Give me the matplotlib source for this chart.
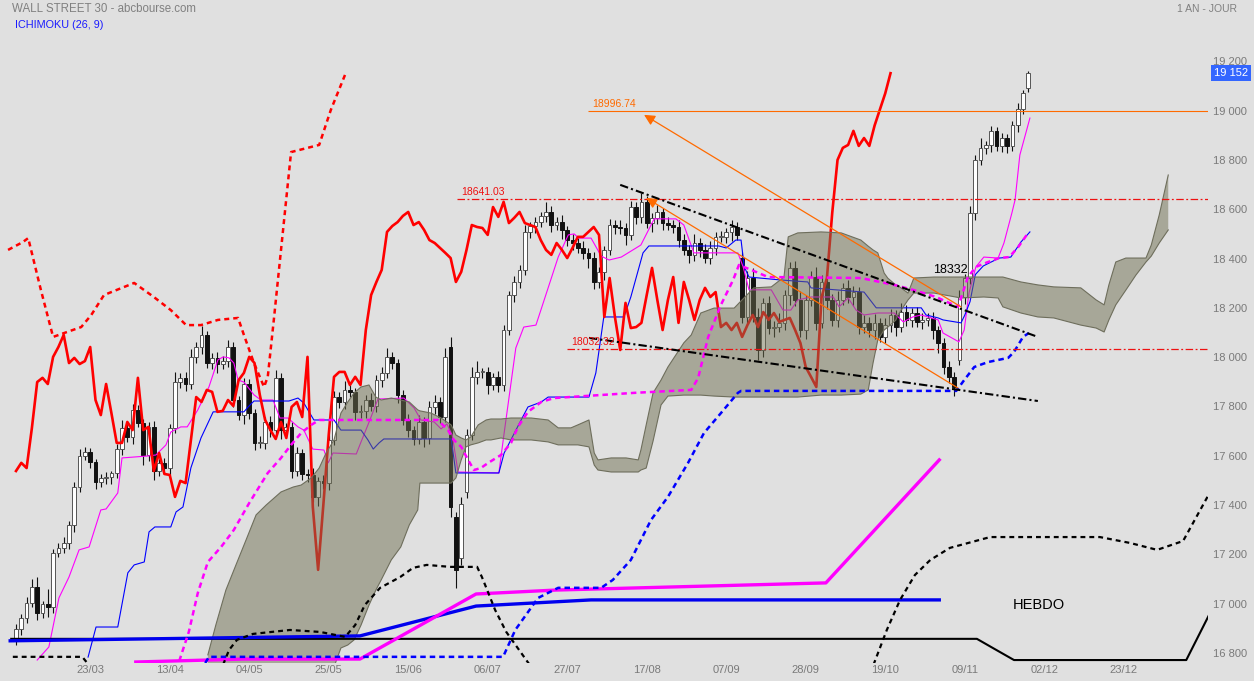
import numpy as np
import matplotlib
matplotlib.use("Agg")
import matplotlib.pyplot as plt
from matplotlib.transforms import blended_transform_factory

# ---------------- data ----------------
closes = [16897, 16942, 17003, 17068, 16962, 16999, 16987, 17206, 17226, 17246,
          17319, 17474, 17599, 17616, 17575, 17494, 17510, 17514, 17530, 17628,
          17713, 17676, 17786, 17733, 17603, 17717, 17538, 17571, 17550, 17713,
          17899, 17916, 17891, 18001, 18041, 18090, 17976, 17997, 17972, 17984,
          18041, 17826, 17765, 17891, 17773, 17652, 17652, 17737, 17704, 17916,
          17704, 17717, 17538, 17611, 17526, 17522, 17433, 17498, 17489, 17664,
          17838, 17818, 17867, 17859, 17778, 17782, 17826, 17802, 17907, 17936,
          18001, 17976, 17847, 17745, 17704, 17668, 17737, 17672, 17798, 17818,
          17757, 18001, 17392, 17137, 17404, 17684, 17920, 17940, 17940, 17887,
          17920, 17887, 18110, 18252, 18305, 18354, 18508, 18532, 18548, 18573,
          18589, 18536, 18548, 18516, 18475, 18463, 18443, 18423, 18402, 18305,
          18346, 18435, 18536, 18528, 18524, 18496, 18609, 18569, 18630, 18544,
          18565, 18589, 18544, 18536, 18528, 18475, 18435, 18415, 18463, 18435,
          18402, 18443, 18488, 18488, 18508, 18528, 18496, 18163, 18321, 18163,
          18029, 18220, 18118, 18122, 18139, 18252, 18362, 18232, 18110, 18232,
          18325, 18139, 18305, 18232, 18151, 18232, 18281, 18244, 18264, 18122,
          18139, 18110, 18139, 18082, 18130, 18171, 18122, 18183, 18151, 18179,
          18143, 18151, 18159, 18110, 18057, 17960, 17920, 17879, 18244, 18321,
          18585, 18800, 18849, 18861, 18918, 18857, 18889, 18857, 18940, 19005, 19070, 19152]

opens = [16861, 16897, 16942, 17003, 17068, 16962, 16999, 16987, 17206, 17226,
         17246, 17319, 17474, 17599, 17616, 17575, 17494, 17510, 17514, 17530,
         17628, 17713, 17676, 17786, 17733, 17603, 17717, 17538, 17571, 17550,
         17713, 17899, 17916, 17891, 18001, 18041, 18090, 17976, 17997, 17972,
         17984, 18041, 17826, 17765, 17891, 17773, 17652, 17652, 17737, 17704,
         17916, 17704, 17717, 17538, 17611, 17526, 17522, 17433, 17498, 17489,
         17664, 17838, 17818, 17867, 17859, 17778, 17782, 17826, 17802, 17907,
         17936, 18001, 17976, 17847, 17745, 17704, 17668, 17737, 17672, 17798,
         17818, 17757, 18040, 17350, 17185, 17453, 17684, 17920, 17940, 17940,
         17887, 17920, 17887, 18110, 18252, 18305, 18354, 18508, 18532, 18548,
         18573, 18589, 18536, 18548, 18516, 18475, 18463, 18443, 18423, 18402,
         18305, 18346, 18435, 18536, 18528, 18524, 18496, 18609, 18569, 18630,
         18544, 18565, 18589, 18544, 18536, 18528, 18475, 18435, 18415, 18463,
         18435, 18402, 18443, 18488, 18488, 18508, 18528, 18402, 18163, 18321,
         18163, 18029, 18220, 18118, 18122, 18139, 18252, 18362, 18232, 18110,
         18232, 18325, 18139, 18305, 18232, 18151, 18232, 18281, 18244, 18264,
         18122, 18139, 18110, 18139, 18082, 18130, 18171, 18122, 18183, 18151,
         18179, 18143, 18151, 18159, 18110, 18057, 17960, 17920, 17990, 18244,
         18321, 18585, 18800, 18849, 18861, 18918, 18857, 18889, 18857, 18940, 19005, 19090]

hi_wick = [20, 15, 25, 30, 40, 10, 60, 15, 20, 25, 15, 20, 30, 20, 15, 10, 15, 20, 10, 20,
           30, 15, 25, 20, 15, 20, 25, 15, 20, 15, 40, 20, 25, 30, 20, 35, 15, 20, 25, 20,
           30, 20, 15, 25, 20, 15, 30, 20, 25, 30, 20, 15, 20, 25, 15, 20, 30, 15, 25, 20,
           25, 20, 35, 20, 15, 25, 20, 30, 20, 25, 35, 20, 15, 20, 25, 15, 30, 20, 25, 30,
           20, 35, 40, 20, 30, 25, 40, 45, 15, 20, 15, 25, 20, 15, 25, 20, 30, 15, 20, 15,
           40, 25, 20, 30, 15, 25, 20, 30, 20, 25, 20, 15, 25, 20, 30, 20, 25, 20, 35, 25,
           20, 30, 15, 25, 20, 30, 25, 20, 35, 20, 25, 30, 20, 25, 15, 30, 20, 25, 30, 40,
           35, 20, 30, 25, 40, 20, 25, 30, 35, 20, 25, 40, 30, 20, 25, 35, 20, 30, 25, 20,
           30, 25, 35, 20, 30, 25, 20, 35, 30, 20, 25, 30, 20, 25, 15, 20, 25, 20, 30, 15,
           30, 20, 40, 15, 20, 15, 20, 15, 20, 25, 15, 10]
lo_wick = [30, 25, 20, 15, 30, 20, 40, 25, 15, 20, 25, 30, 20, 15, 25, 30, 20, 25, 30, 20,
           25, 20, 30, 15, 40, 25, 35, 20, 25, 30, 20, 25, 30, 20, 25, 30, 20, 25, 35, 20,
           25, 30, 20, 35, 25, 30, 20, 25, 30, 20, 35, 25, 30, 20, 25, 30, 20, 35, 25, 30,
           20, 25, 30, 20, 35, 25, 30, 20, 25, 30, 20, 25, 35, 20, 30, 25, 20, 35, 25, 30,
           25, 20, 40, 75, 30, 25, 20, 30, 25, 35, 20, 30, 25, 20, 30, 25, 20, 25, 30, 20,
           25, 30, 20, 35, 25, 30, 20, 25, 40, 30, 25, 35, 20, 30, 25, 40, 20, 30, 25, 20,
           35, 25, 30, 20, 25, 30, 20, 35, 25, 30, 20, 25, 30, 20, 25, 35, 20, 25, 30, 20,
           40, 30, 25, 35, 20, 30, 40, 25, 30, 35, 25, 30, 20, 35, 25, 30, 20, 25, 35, 30,
           25, 30, 35, 20, 25, 30, 35, 20, 25, 30, 20, 30, 25, 35, 40, 30, 25, 35, 20, 30,
           25, 30, 20, 25, 30, 20, 25, 30, 20, 25, 20, 15]

CHIKOU_SHIFT = 26

# daily Ichimoku lines, (bar index, price)
tenkan = [(4.0, 16771), (6.2, 16824), (8.1, 17023), (10.0, 17108), (11.9, 17218), (13.8, 17230),
          (16.0, 17380), (17.0, 17384), (19.2, 17449), (20.0, 17591), (24.9, 17599), (26.4, 17603),
          (28.3, 17644), (29.2, 17696), (31.1, 17717), (32.3, 17717), (34.3, 17786), (36.4, 17879),
          (38.1, 17989), (39.1, 18001), (40.2, 17997), (41.1, 17976), (41.9, 17907), (43.0, 17899),
          (44.9, 17847), (46.2, 17826), (48.5, 17826), (49.8, 17753), (51.3, 17753), (53.2, 17717),
          (54.3, 17704), (56.0, 17627), (58.1, 17623), (58.9, 17571), (59.8, 17611), (64.2, 17607),
          (65.1, 17656), (66.4, 17725), (68.3, 17830), (73.2, 17834), (75.1, 17794), (76.4, 17745),
          (78.9, 17737), (80.2, 17709), (81.3, 17729), (82.3, 17684), (83.4, 17534), (91.1, 17530),
          (92.1, 17692), (94.3, 18037), (95.8, 18122), (98.1, 18130), (100.4, 18281), (102.3, 18406),
          (104.2, 18496), (105.3, 18500), (106.2, 18483), (108.5, 18483), (110.4, 18410), (111.9, 18394),
          (114.2, 18406), (117.0, 18443), (117.9, 18455), (120.4, 18561), (124.5, 18561), (126.0, 18536),
          (127.9, 18423), (136.2, 18423), (137.2, 18366), (138.3, 18273), (142.5, 18273), (144.7, 18191),
          (146.2, 18191), (147.5, 18232), (150.0, 18244), (154.2, 18244), (155.3, 18204), (157.0, 18240),
          (158.5, 18191), (160.0, 18171), (162.6, 18179), (165.7, 18179), (167.4, 18143), (169.2, 18163),
          (170.8, 18171), (174.0, 18151), (174.9, 18098), (177.9, 18062), (178.9, 18110), (179.8, 18260),
          (181.1, 18366), (182.6, 18406), (185.3, 18402), (186.4, 18463), (187.9, 18585), (188.5, 18638),
          (189.4, 18820), (191.3, 18970)]
kijun = [(13.6, 16783), (15.1, 16905), (19.2, 16905), (21.1, 17125), (22.3, 17157), (24.2, 17169),
         (25.1, 17291), (26.2, 17311), (29.2, 17311), (30.2, 17372), (31.5, 17392), (33.0, 17551),
         (34.9, 17672), (37.2, 17778), (43.0, 17778), (43.8, 17798), (44.9, 17822), (51.5, 17822),
         (53.2, 17834), (54.3, 17814), (56.2, 17745), (60.0, 17745), (61.3, 17704), (65.1, 17704),
         (66.4, 17664), (67.4, 17627), (68.5, 17652), (69.4, 17668), (82.1, 17668), (83.0, 17530),
         (91.1, 17530), (92.1, 17611), (95.3, 17745), (96.6, 17798), (99.1, 17818), (100.4, 17838),
         (108.1, 17838), (109.4, 17936), (110.9, 18163), (114.7, 18163), (116.0, 18244), (118.3, 18423),
         (119.4, 18451), (132.6, 18451), (134.0, 18443), (135.8, 18475), (136.8, 18475), (137.4, 18366),
         (138.3, 18325), (144.3, 18313), (149.4, 18305), (150.0, 18281), (160.0, 18264), (162.3, 18200),
         (170.8, 18200), (171.7, 18171), (174.0, 18159), (174.9, 18151), (178.3, 18139), (179.0, 18170),
         (180.0, 18225), (181.0, 18335), (182.5, 18370), (185.5, 18402), (187.7, 18406), (189.6, 18467),
         (191.3, 18508)]

# Kumo (cloud) envelope: bar index, upper edge, lower edge
cloud_x = [36.2, 37.7, 39.6, 41.5, 43.4, 45.3, 47.2, 50.0, 52.3, 53.8, 55.7, 57.2, 58.5, 60.0, 61.3,
           62.6, 63.8, 65.1, 66.6, 67.9, 68.9, 70.8, 72.6, 74.2, 75.8, 76.2, 78.3, 80.2, 82.1, 83.0,
           84.0, 84.9, 85.8, 87.2, 88.7, 89.6, 91.5, 93.4, 97.2, 100.4, 102.3, 104.7, 106.0, 108.1,
           109.1, 109.8, 112.3, 115.1, 117.4, 117.9, 118.9, 120.2, 121.7, 123.0, 126.0, 127.4, 129.2,
           131.7, 135.5, 136.8, 139.2, 142.5, 144.9, 145.7, 147.5, 151.9, 155.7, 159.4, 160.8, 161.7,
           162.6, 163.8, 164.5, 166.0, 166.4, 168.3, 169.4, 173.2, 178.3, 182.6, 185.3, 186.2, 189.6,
           192.8, 195.8, 200.9, 203.8, 205.3, 206.2, 207.5, 209.4, 211.3, 213.2, 214.2, 215.7, 217.4]
cloud_top = [16792, 16913, 17055, 17157, 17258, 17360, 17400, 17453, 17473, 17481, 17510, 17550, 17611,
             17664, 17773, 17818, 17855, 17879, 17887, 17838, 17826, 17834, 17826, 17818, 17786, 17782,
             17773, 17753, 17725, 17684, 17672, 17664, 17676, 17725, 17745, 17749, 17749, 17753, 17753,
             17745, 17713, 17713, 17725, 17745, 17611, 17583, 17591, 17591, 17583, 17623, 17725, 17855,
             17907, 17960, 18058, 18090, 18179, 18199, 18199, 18228, 18281, 18285, 18325, 18488, 18504,
             18508, 18504, 18475, 18450, 18435, 18423, 18341, 18320, 18293, 18290, 18260, 18321, 18325,
             18325, 18325, 18325, 18325, 18305, 18293, 18285, 18281, 18232, 18212, 18293, 18386, 18402,
             18402, 18402, 18455, 18577, 18739]
cloud_bot = [16650, 16650, 16650, 16650, 16650, 16650, 16650, 16650, 16650, 16650, 16650, 16650, 16650,
             16743, 16820, 16832, 16853, 16913, 16994, 17055, 17096, 17177, 17230, 17319, 17380, 17489,
             17489, 17489, 17489, 17510, 17583, 17636, 17644, 17652, 17664, 17664, 17672, 17664, 17664,
             17656, 17644, 17644, 17644, 17636, 17562, 17542, 17534, 17534, 17534, 17542, 17550, 17660,
             17806, 17842, 17846, 17846, 17846, 17842, 17838, 17838, 17838, 17838, 17838, 17838, 17838,
             17846, 17846, 17850, 17867, 17976, 18070, 18110, 18122, 18150, 18171, 18232, 18260, 18260,
             18240, 18244, 18240, 18204, 18179, 18163, 18159, 18130, 18118, 18102, 18151, 18212, 18272,
             18333, 18386, 18410, 18463, 18516]

# weekly ("HEBDO") Ichimoku lines, (bar index, price)
w_chikou = [(-1.5, 18435), (1.3, 18467), (2.3, 18483), (4.7, 18272), (7.0, 18082), (9.1, 18098),
            (12.3, 18122), (14.2, 18171), (16.6, 18252), (22.3, 18301), (26.0, 18244), (29.2, 18191),
            (32.1, 18130), (34.9, 18130), (38.1, 18151), (41.9, 18159), (43.0, 18090), (44.9, 17976),
            (46.8, 17879), (47.5, 17920), (48.7, 18163), (50.0, 18435), (51.9, 18832), (57.2, 18861),
            (59.4, 19003), (62.3, 19157)]
w_tenkan = [(30.8, 16767), (32.6, 16885), (34.3, 17043), (36.2, 17169), (38.7, 17230), (41.1, 17299),
            (44.0, 17408), (47.5, 17530), (50.0, 17591), (51.9, 17644), (53.8, 17692), (55.7, 17725),
            (57.2, 17745), (79.6, 17745), (81.5, 17704), (82.6, 17664), (84.0, 17636), (85.3, 17583),
            (86.4, 17542), (87.7, 17550), (89.1, 17571), (91.5, 17603), (93.4, 17652), (94.7, 17717),
            (96.6, 17778), (99.1, 17818), (101.5, 17834), (116.6, 17855), (127.4, 17867), (128.7, 17915),
            (130.6, 18082), (133.0, 18212), (135.3, 18313), (136.4, 18374), (138.7, 18354), (141.9, 18325),
            (159.4, 18321), (165.7, 18293), (169.4, 18272), (173.6, 18244), (177.7, 18204), (178.3, 18240),
            (179.6, 18325), (181.1, 18366), (183.4, 18386), (185.5, 18402), (187.4, 18406), (189.1, 18447),
            (191.1, 18508)]
w_kijun = [(35.7, 16759), (36.4, 16784), (91.9, 16784), (94.2, 16893), (98.5, 17023), (102.3, 17064),
           (110.4, 17064), (112.6, 17096), (116.0, 17177), (119.8, 17339), (123.0, 17433), (126.8, 17571),
           (129.8, 17692), (133.0, 17773), (136.2, 17855), (136.8, 17863), (177.4, 17863), (178.9, 17907),
           (180.8, 17960), (183.4, 17980), (187.2, 17997), (188.3, 18021), (190.0, 18082), (191.1, 18098)]
w_span_b = [(-0.6, 16784), (12.5, 16784), (13.6, 16755), (14.9, 16600), (37.5, 16600), (38.9, 16743),
            (40.2, 16812), (41.7, 16853), (44.7, 16877), (51.7, 16893), (57.4, 16885), (62.1, 16865),
            (64.0, 16913), (65.8, 16994), (68.7, 17064), (72.5, 17108), (74.9, 17145), (77.5, 17157),
            (81.9, 17149), (87.0, 17149), (87.9, 17108), (88.9, 17055), (90.4, 16974), (92.5, 16885),
            (97.2, 16743), (98.9, 16600), (160.2, 16600), (161.7, 16747), (164.3, 16893), (166.8, 17015),
            (169.6, 17116), (172.5, 17177), (176.2, 17226), (183.8, 17270), (204.5, 17270), (210.2, 17246),
            (215.3, 17218), (220.2, 17254), (224.9, 17437)]
w_span_a = [(-0.9, 16857), (181.3, 16857), (184.3, 16820), (188.3, 16771), (220.8, 16771), (225.1, 16954)]
w_kijun_thick = [(-1.1, 16849), (64.9, 16869), (86.8, 16990), (108.5, 17015), (174.2, 17015)]
w_tenkan_thick = [(22.6, 16763), (43.0, 16775), (64.9, 16775), (86.8, 17039), (101.9, 17055),
                  (152.8, 17084), (174.2, 17583)]

# drawings
level_hi = 18641.03
level_lo = 18032.32
level_target = 18996.74
level_hi_start, level_lo_start, level_target_start = 83.2, 104.0, 107.9
arrow_1 = [(118.5, 18983), (178.3, 18204)]
arrow_2 = [(118.9, 18646), (177.7, 17875)]
trend_up = [(114.0, 18699), (192.8, 18082)]
trend_dn = [(108.1, 18078), (192.8, 17822)]
last_price = 19152

tick_pos = [14, 29, 44, 59, 74, 89, 104, 119, 134, 149, 164, 179, 194, 209]
tick_lab = ["23/03", "13/04", "04/05", "25/05", "15/06", "06/07", "27/07", "17/08",
            "07/09", "28/09", "19/10", "09/11", "02/12", "23/12"]
y_ticks = list(range(16800, 19201, 200))

# ---------------- figure ----------------
BG = "#e0e0e0"
FONT = ["Liberation Sans", "DejaVu Sans"]
plt.rcParams["font.family"] = FONT

W, H = 1254, 681
fig = plt.figure(figsize=(W / 100, H / 100), dpi=100)
fig.patch.set_facecolor(BG)
ax = fig.add_axes([0, 18 / H, 1208 / W, 663 / H])
ax.set_facecolor(BG)
ax.set_xlim(-3.02, 224.9)
ax.set_ylim(16759, 19449)
for s in ax.spines.values():
    s.set_visible(False)

o = np.array(opens, float)
c = np.array(closes, float)
hi = np.maximum(o, c) + np.array(hi_wick)
lo = np.minimum(o, c) - np.array(lo_wick)
x = np.arange(len(c))

ax.vlines(x, lo, hi, color="#111111", lw=0.8, zorder=2)
up = c >= o
bot = np.minimum(o, c)
hgt = np.maximum(np.abs(c - o), 4)
ax.bar(x[up], hgt[up], bottom=bot[up], width=0.7, color="white", edgecolor="#555555",
       linewidth=0.7, zorder=2.5)
ax.bar(x[~up], hgt[~up], bottom=bot[~up], width=0.7, color="#111111", edgecolor="#111111",
       linewidth=0.7, zorder=2.5)


def line(pts, **kw):
    a = np.array(pts, float)
    ax.plot(a[:, 0], a[:, 1], **kw)


line(tenkan, color="#ff00ff", lw=0.8, zorder=3)
line(kijun, color="#0000ff", lw=0.8, zorder=3)
ax.plot(x[CHIKOU_SHIFT:] - CHIKOU_SHIFT, c[CHIKOU_SHIFT:], color="#ff0000", lw=1.9, zorder=3)

# cloud drawn semi-transparent over the daily lines
ax.fill_between(cloud_x, cloud_bot, cloud_top, facecolor=(0.44, 0.44, 0.32), alpha=0.5,
                linewidth=0, zorder=4)
ax.plot(cloud_x, cloud_top, color="#6e6e5c", lw=0.8, zorder=4)
ax.plot(cloud_x, cloud_bot, color="#6e6e5c", lw=0.8, zorder=4)

# weekly lines
line(w_span_a, color="black", lw=1.5, zorder=5)
line(w_kijun_thick, color="#0000ee", lw=2.4, zorder=5)
line(w_tenkan_thick, color="#ff00ff", lw=2.4, zorder=5)
line(w_chikou, color="#ff0000", lw=1.8, dashes=(2.0, 1.6), zorder=5)
line(w_tenkan, color="#ff00ff", lw=1.8, dashes=(2.2, 1.6), zorder=5)
line(w_kijun, color="#0000ff", lw=1.8, dashes=(2.2, 1.6), zorder=5)
line(w_span_b, color="black", lw=1.6, dashes=(2.2, 1.8), zorder=5)

# drawings
ORANGE = "#ff6a00"
ax.hlines(level_hi, level_hi_start, 225, color="#ee1111", lw=0.9, linestyles=[(0, (6, 2, 1.5, 2))], zorder=6)
ax.hlines(level_lo, level_lo_start, 225, color="#ee1111", lw=0.9, linestyles=[(0, (6, 2, 1.5, 2))], zorder=6)
ax.hlines(level_target, level_target_start, 225, color=ORANGE, lw=0.8, zorder=6)
ax.text(level_hi_start + 0.8, level_hi + 8, "18641.03", color="#ee1111", fontsize=7.5,
        va="bottom", ha="left", zorder=7)
ax.text(level_lo_start + 0.8, level_lo + 8, "18032.32", color="#ee1111", fontsize=7.5,
        va="bottom", ha="left", zorder=7)
ax.text(level_target_start + 0.8, level_target + 8, "18996.74", color=ORANGE, fontsize=7.5,
        va="bottom", ha="left", zorder=7)
for a in (arrow_1, arrow_2):
    ax.annotate("", xy=a[0], xytext=a[1],
                arrowprops=dict(arrowstyle="-|>", color=ORANGE, lw=0.9, mutation_scale=16,
                                shrinkA=0, shrinkB=0), zorder=6)
for t in (trend_up, trend_dn):
    line(t, color="black", lw=1.5, dashes=(4, 1.5, 1, 1.5), zorder=6)

ax.text(173.0, 18354, "18332", color="black", fontsize=9, ha="left", va="center", zorder=7)
ax.text(188.1, 16995, "HEBDO", color="black", fontsize=10.5, ha="left", va="center", zorder=7)

# axes ticks
ax.yaxis.tick_right()
ax.set_yticks(y_ticks)
ax.set_yticklabels([f"{v // 1000} {v % 1000:03d}" for v in y_ticks])
ax.set_xticks(tick_pos)
ax.set_xticklabels(tick_lab)
ax.tick_params(axis="y", length=0, pad=3.6, labelsize=8, labelcolor="#7a7a7a")
ax.tick_params(axis="x", length=0, pad=1.5, labelsize=8, labelcolor="#7a7a7a")

tr = blended_transform_factory(ax.transAxes, ax.transData)
ax.text(1 + 6 / 1208, last_price, f"{last_price // 1000} {last_price % 1000:03d}", transform=tr,
        color="white", fontsize=8, ha="left", va="center", clip_on=False, zorder=8,
        bbox=dict(boxstyle="square,pad=0.25", facecolor="#3366ff", edgecolor="none"))

fig.text(12 / W, 1 - 9 / H, "WALL STREET 30 - abcbourse.com", color="#808080", fontsize=8.3,
         ha="left", va="center")
fig.text(15 / W, 1 - 25 / H, "ICHIMOKU (26, 9)", color="#1a1aff", fontsize=7.8,
         ha="left", va="center")
fig.text(1237 / W, 1 - 9 / H, "1 AN - JOUR", color="#808080", fontsize=7.5,
         ha="right", va="center")

fig.savefig("out.png", dpi=100, facecolor=BG)
